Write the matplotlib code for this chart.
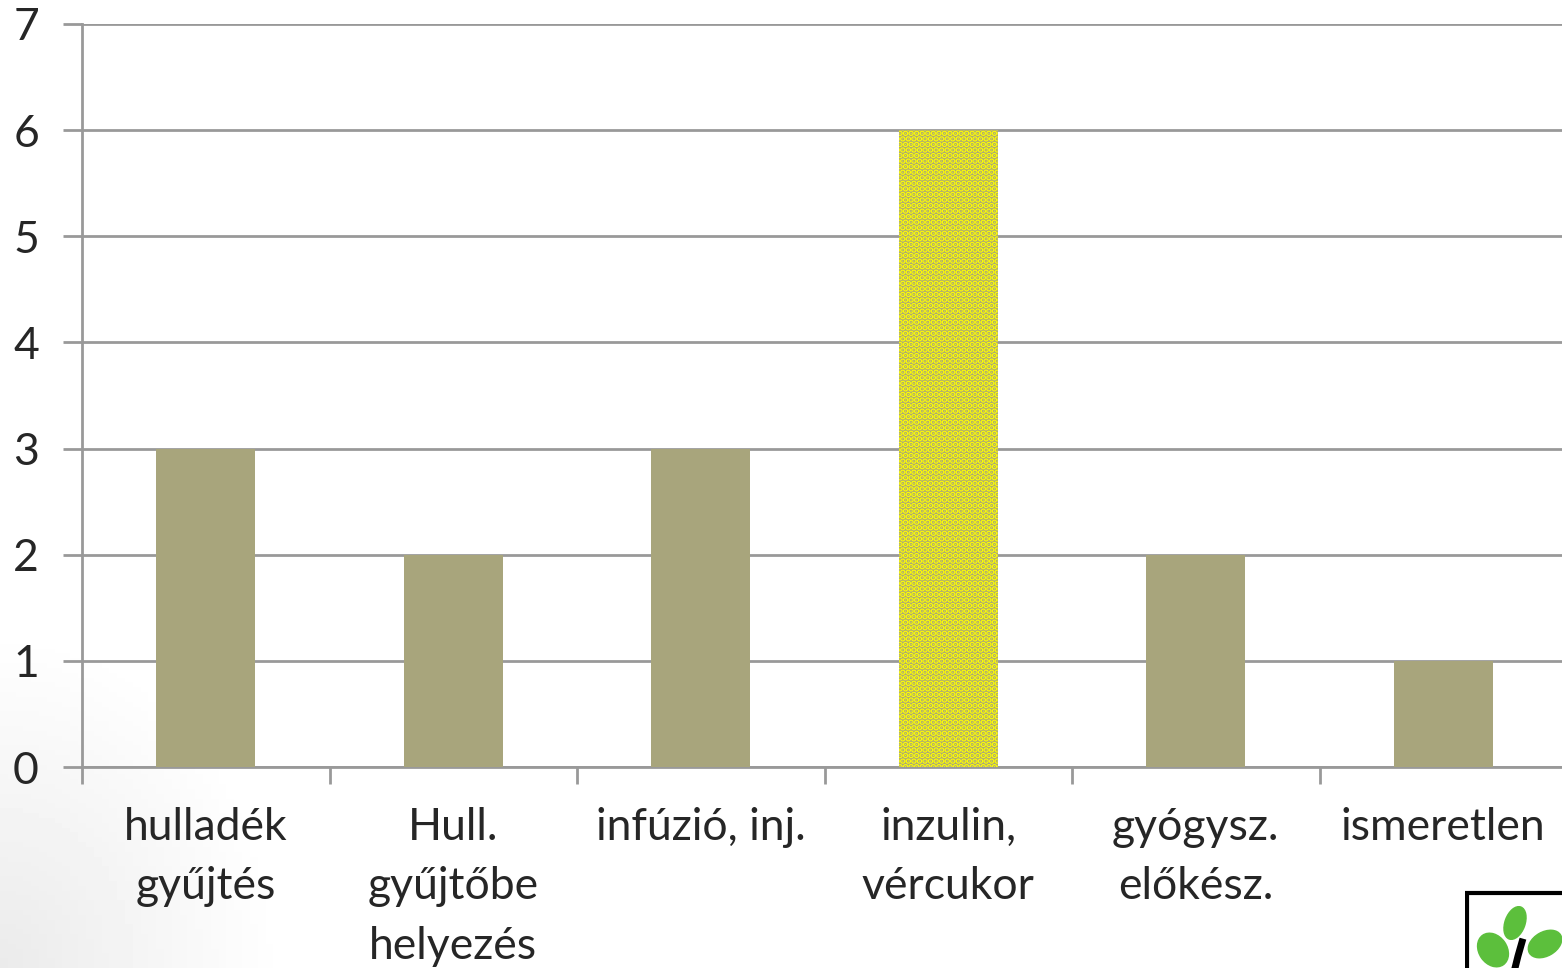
import numpy as np
import matplotlib.pyplot as plt
from matplotlib.patches import Rectangle, Ellipse

# data
categories = ['hulladék\ngyűjtés', 'Hull.\ngyűjtőbe\nhelyezés', 'infúzió, inj.',
              'inzulin,\nvércukor', 'gyógysz.\nelőkész.', 'ismeretlen']
values = [3, 2, 3, 6, 2, 1]
highlight = 3  # index of the dotted bar

plt.rcParams['font.family'] = ['Lato', 'DejaVu Sans']
plt.rcParams['hatch.linewidth'] = 3.0

fig = plt.figure(figsize=(15.62, 9.68), dpi=100)

# faint grey shading in the lower left corner
bg = fig.add_axes([0, 0, 1, 1], zorder=-5)
bg.axis('off')
yy, xx = np.mgrid[0:1:200j, 0:1:200j]
r = np.sqrt((xx / 0.18) ** 2 + (yy / 0.35) ** 2)
shade = np.clip(1 - r, 0, 1) * 0.08
bg.imshow(1 - shade, cmap='gray', vmin=0, vmax=1, origin='lower',
          extent=[0, 1, 0, 1], aspect='auto')

ax = fig.add_axes([82 / 1562, 201 / 968, 1485 / 1562, 743 / 968])
ax.patch.set_alpha(0)

x = np.arange(len(values))
colors = ['#a8a57c'] * len(values)
bars = ax.bar(x, values, width=0.4, color=colors, linewidth=0, zorder=3)
bars[highlight].set_hatch('...')
bars[highlight].set_edgecolor('#ffff00')
bars[highlight].set_linewidth(0)

ax.set_xlim(-0.5, len(values) - 0.5)
ax.set_ylim(0, 7)
ax.set_yticks(range(0, 8))
ax.yaxis.grid(True, color='#999999', linewidth=2, zorder=0)

ax.set_xticks(x)
ax.set_xticklabels(categories, fontsize=32, color='#262626', linespacing=1.55)
ax.tick_params(axis='x', length=0, pad=29)
ax.set_xticks(np.arange(-0.5, len(values), 1), minor=True)
ax.tick_params(axis='x', which='minor', length=12, width=2, color='#999999')
ax.tick_params(axis='y', length=14, width=2, color='#999999',
               labelsize=32, labelcolor='#262626', pad=17)

for s in ['top', 'right']:
    ax.spines[s].set_visible(False)
for s in ['left', 'bottom']:
    ax.spines[s].set_color('#999999')
    ax.spines[s].set_linewidth(2)

# small logo in the bottom right corner
lg = fig.add_axes([1465 / 1562, 0, 97 / 1562, 78 / 968])
lg.set_xlim(0, 97)
lg.set_ylim(0, 78)
lg.axis('off')
lg.add_patch(Rectangle((1.5, -5), 120, 80, fill=False, edgecolor='black', linewidth=3))
lg.add_patch(Ellipse((50, 45), 20, 34, angle=-20, color='#5cbf3c'))
lg.add_patch(Ellipse((28, 18), 28, 36, angle=35, color='#5cbf3c'))
lg.add_patch(Ellipse((80, 24), 36, 24, angle=30, color='#5cbf3c'))
lg.plot([57, 53, 50], [26, 12, 0], color='black', linewidth=5)

fig.savefig('out.png', dpi=100)
